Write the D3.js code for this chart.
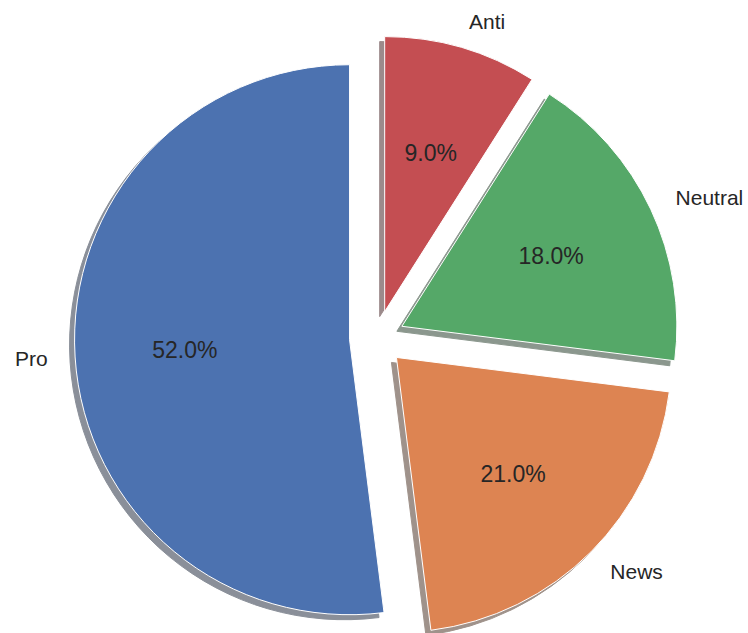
<!DOCTYPE html>
<html>
<head>
<meta charset="utf-8">
<script src="https://cdn.jsdelivr.net/npm/d3@7"></script>
<style>
  html, body { margin: 0; padding: 0; background: #ffffff; }
  svg { display: block; }
</style>
</head>
<body>
<script>
// Share of posts by stance
const labels  = ["Pro", "News", "Neutral", "Anti"];
const shares  = [52, 21, 18, 9];
const explode = [0.1, 0.1, 0.1, 0.1];
const colors  = ["#4C72B0", "#DD8452", "#55A868", "#C44E52"];

const width = 748, height = 633;
const cx = 377, cy = 338, radius = 275;
const labelDistance = 1.1, pctDistance = 0.6;
const shadowDx = -5, shadowDy = 5;

const svg = d3.select("body").append("svg")
  .attr("width", width)
  .attr("height", height);

const root = svg.append("g").attr("transform", `translate(${cx},${cy})`);

// Start at 12 o'clock and run counter-clockwise
const pie = d3.pie()
  .sort(null)
  .value(d => d.value)
  .startAngle(0)
  .endAngle(-2 * Math.PI);

const arcs = pie(labels.map((l, i) => ({ label: l, value: shares[i], explode: explode[i], color: colors[i] })));
const arc = d3.arc().innerRadius(0).outerRadius(radius);

const mid = d => (d.startAngle + d.endAngle) / 2;
const offset = d => {
  const a = mid(d), e = d.data.explode * radius;
  return [e * Math.sin(a), -e * Math.cos(a)];
};

// Shadow colour: 30% of the wedge colour at half opacity
const shade = c => {
  const rgb = d3.rgb(c);
  return d3.rgb(rgb.r * 0.3, rgb.g * 0.3, rgb.b * 0.3).toString();
};

// Shadows sit beneath every wedge
root.append("g").selectAll("path")
  .data(arcs)
  .join("path")
  .attr("transform", d => { const [ox, oy] = offset(d); return `translate(${ox + shadowDx},${oy + shadowDy})`; })
  .attr("d", arc)
  .attr("fill", d => shade(d.data.color))
  .attr("stroke", d => shade(d.data.color))
  .attr("stroke-width", 1)
  .attr("opacity", 0.5);

const wedges = root.append("g").selectAll("g")
  .data(arcs)
  .join("g")
  .attr("transform", d => { const [ox, oy] = offset(d); return `translate(${ox},${oy})`; });

wedges.append("path")
  .attr("d", arc)
  .attr("fill", d => d.data.color)
  .attr("stroke", "#ffffff")
  .attr("stroke-width", 1)
  .attr("stroke-linejoin", "round");

// Percentage labels inside the wedges
wedges.append("text")
  .attr("x", d => pctDistance * radius * Math.sin(mid(d)))
  .attr("y", d => -pctDistance * radius * Math.cos(mid(d)))
  .attr("text-anchor", "middle")
  .attr("dominant-baseline", "central")
  .attr("font-family", "'Liberation Sans', Arial, sans-serif")
  .attr("font-size", 23)
  .attr("fill", "#262626")
  .text(d => d3.format(".1f")(d.data.value) + "%");

// Category labels outside the wedges
wedges.append("text")
  .each(function(d) {
    const [ox] = offset(d);
    const x = labelDistance * radius * Math.sin(mid(d));
    const y = -labelDistance * radius * Math.cos(mid(d));
    d3.select(this)
      .attr("x", x)
      .attr("y", y)
      .attr("text-anchor", (x + ox) > 0 ? "start" : "end");
  })
  .attr("dominant-baseline", "central")
  .attr("font-family", "'Liberation Sans', Arial, sans-serif")
  .attr("font-size", 21)
  .attr("fill", "#262626")
  .text(d => d.data.label);
</script>
</body>
</html>
